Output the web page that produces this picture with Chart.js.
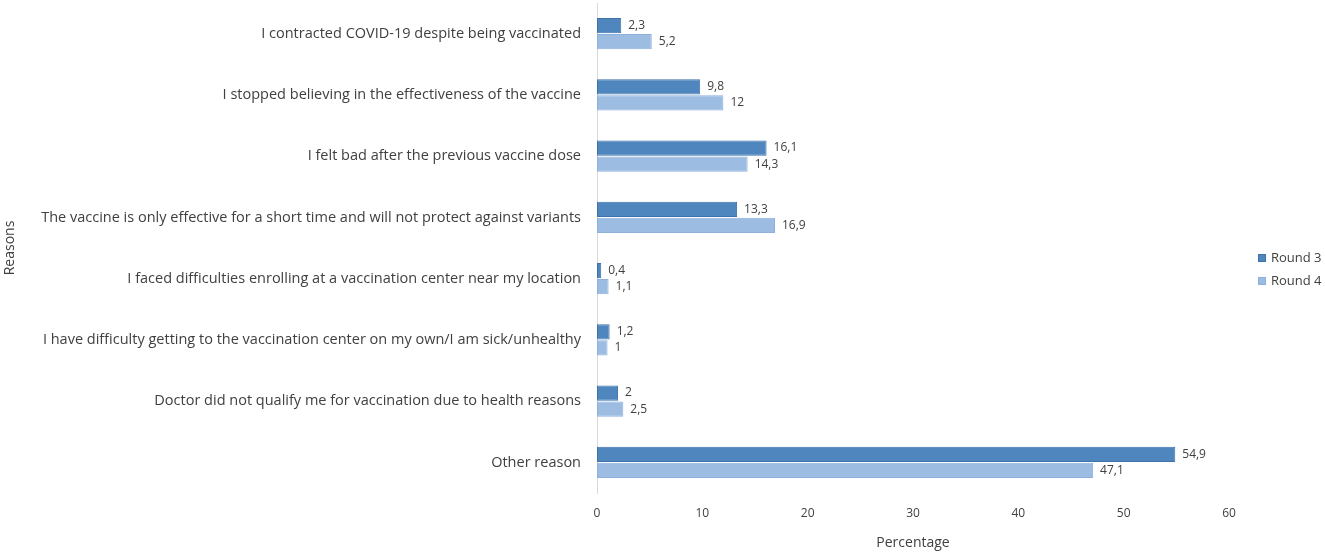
<!DOCTYPE html>
<html lang="en">
<head>
  <meta charset="UTF-8" />
  <title>Reasons</title>
  <script src="https://cdn.jsdelivr.net/npm/chart.js"></script>
  <style>
    html, body { margin: 0; padding: 0; background: #fff; }
    #wrap { width: 1325px; height: 554px; position: relative; }
  </style>
</head>
<body>
  <div id="wrap"><canvas id="chart"></canvas></div>
  <script>
    const reasons = [
      'I contracted COVID-19 despite being vaccinated',
      'I stopped believing in the effectiveness of the vaccine',
      'I felt bad after the previous vaccine dose',
      'The vaccine is only effective for a short time and will not protect against variants',
      'I faced difficulties enrolling at a vaccination center near my location',
      'I have difficulty getting to the vaccination center on my own/I am sick/unhealthy',
      'Doctor did not qualify me for vaccination due to health reasons',
      'Other reason'
    ];
    const round3 = [2.3, 9.8, 16.1, 13.3, 0.4, 1.2, 2, 54.9];
    const round4 = [5.2, 12, 14.3, 16.9, 1.1, 1, 2.5, 47.1];
    const xTicks = [0, 10, 20, 30, 40, 50, 60];

    const fontFamily = '"Open Sans", "Liberation Sans", sans-serif';
    const textColor = '#404040';

    // labels at the end of each bar, decimal comma
    const barLabels = {
      id: 'barLabels',
      afterDatasetsDraw(chart) {
        const ctx = chart.ctx;
        ctx.save();
        ctx.font = '12px ' + fontFamily;
        ctx.fillStyle = textColor;
        ctx.textBaseline = 'middle';
        ctx.textAlign = 'left';
        chart.data.datasets.forEach((ds, i) => {
          chart.getDatasetMeta(i).data.forEach((bar, j) => {
            const txt = String(ds.data[j]).replace('.', ',');
            ctx.fillText(txt, bar.x + 7, bar.y);
          });
        });
        ctx.restore();
      }
    };

    // legend to the right of the plot
    const sideLegend = {
      id: 'sideLegend',
      afterDraw(chart) {
        const ctx = chart.ctx;
        const area = chart.chartArea;
        const x = area.right + 29;
        const mid = (area.top + area.bottom) / 2;
        ctx.save();
        ctx.font = '13px ' + fontFamily;
        ctx.textBaseline = 'middle';
        chart.data.datasets.forEach((ds, i) => {
          const y = mid + 10 + i * 23;
          ctx.fillStyle = ds.backgroundColor;
          ctx.strokeStyle = ds.borderColor;
          ctx.lineWidth = 1;
          ctx.fillRect(x, y - 4, 8, 8);
          ctx.strokeRect(x + 0.5, y - 3.5, 7, 7);
          ctx.fillStyle = textColor;
          ctx.fillText(ds.label, x + 13, y);
        });
        ctx.restore();
      }
    };

    new Chart(document.getElementById('chart'), {
      type: 'bar',
      data: {
        labels: reasons,
        datasets: [
          {
            label: 'Round 3',
            data: round3,
            backgroundColor: '#4f86bd',
            borderColor: '#3d72aa',
            borderWidth: 1,
            borderSkipped: false,
            categoryPercentage: 0.53,
            barPercentage: 0.94
          },
          {
            label: 'Round 4',
            data: round4,
            backgroundColor: '#9dbce2',
            borderColor: '#8db0dc',
            borderWidth: 1,
            borderSkipped: false,
            categoryPercentage: 0.53,
            barPercentage: 0.94
          }
        ]
      },
      options: {
        indexAxis: 'y',
        responsive: true,
        maintainAspectRatio: false,
        animation: false,
        layout: { padding: { top: 3, bottom: 0, left: 0, right: 96 } },
        plugins: {
          tooltip: { enabled: false },
          legend: { display: false }
        },
        scales: {
          x: {
            min: 0,
            max: 60,
            afterBuildTicks: (axis) => { axis.ticks = xTicks.map(v => ({ value: v })); },
            afterFit: (axis) => {
              axis.height = 61;
              axis.paddingLeft = 0;
              axis.paddingRight = 0;
            },
            grid: { display: false, drawTicks: false },
            border: { display: false },
            ticks: { color: textColor, font: { family: fontFamily, size: 12 }, padding: 13 },
            title: {
              display: true,
              text: 'Percentage',
              color: textColor,
              font: { family: fontFamily, size: 14 },
              padding: { top: 4, bottom: 3 }
            }
          },
          y: {
            afterFit: (axis) => {
              axis.width = 597;
              axis.paddingTop = 0;
              axis.paddingBottom = 0;
            },
            grid: { display: false, drawTicks: false },
            border: { display: true, color: '#d9d9d9' },
            ticks: { color: textColor, font: { family: fontFamily, size: 14.5 }, padding: 16 },
            title: {
              display: true,
              text: 'Reasons',
              color: textColor,
              font: { family: fontFamily, size: 14 },
              padding: { top: 2, bottom: 2 }
            }
          }
        }
      },
      plugins: [barLabels, sideLegend]
    });
  </script>
</body>
</html>
